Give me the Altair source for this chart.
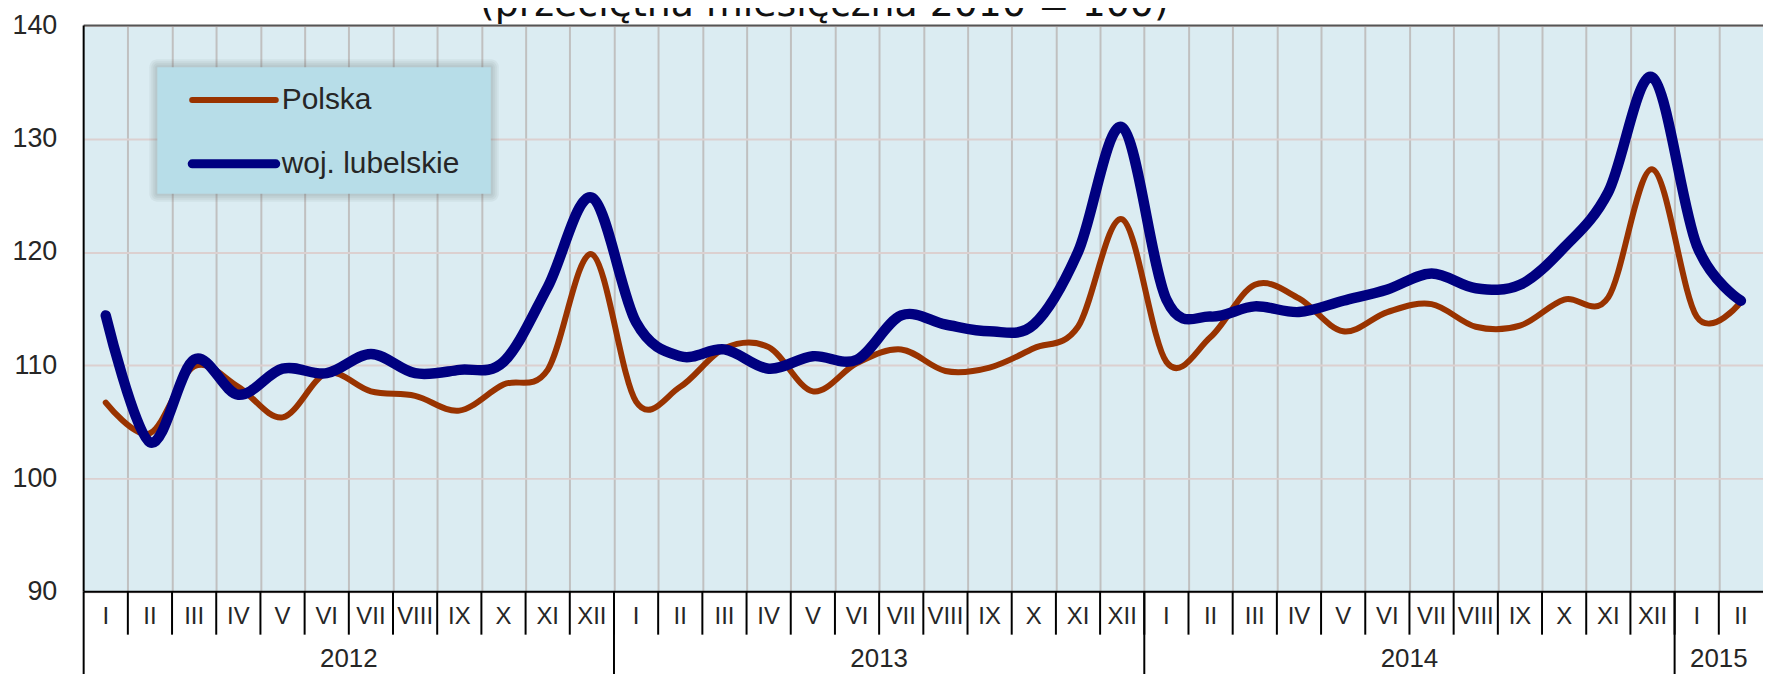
import altair as alt
import pandas as pd

# ---- data ----
month_names = ["I", "II", "III", "IV", "V", "VI", "VII", "VIII", "IX", "X", "XI", "XII"]
months = month_names * 3 + ["I", "II"]
years = ["2012", "2013", "2014", "2015"]
year_months = [12, 12, 12, 2]
series_names = ["Polska", "woj. lubelskie"]

polska = [
    106.7, 104.0, 109.9, 108.1, 105.4, 109.3, 107.7, 107.3, 106.0, 108.3, 109.6, 119.8,
    106.8, 108.1, 111.5, 111.6, 107.7, 110.2, 111.4, 109.5, 109.8, 111.5, 113.4, 122.9,
    110.3, 112.5, 117.1, 115.9, 113.0, 114.7, 115.4, 113.4, 113.5, 115.8, 116.0, 127.3,
    114.3, 115.6,
]
lubelskie = [
    114.4, 103.2, 110.5, 107.4, 109.7, 109.3, 111.0, 109.3, 109.6, 110.3, 116.9, 124.8,
    113.8, 110.8, 111.4, 109.7, 110.8, 110.5, 114.4, 113.6, 113.0, 113.6, 120.0, 131.0,
    115.8, 114.3, 115.2, 114.7, 115.7, 116.7, 118.1, 116.8, 117.1, 120.4, 125.3, 135.4,
    120.6, 115.7,
]
y_ticks = [90, 100, 110, 120, 130, 140]
title_text = "(przeciętna miesięczna 2010 = 100)"

# ---- layout ----
n = len(months)
W, H = 1687, 569
FONT = "Liberation Sans"
TXT = "#262626"
C_PL = "#993300"
C_LU = "#000080"

x_scale = alt.Scale(domain=[0, n], nice=False, zero=False)
y_scale = alt.Scale(domain=[90, 140], nice=False, zero=False)
x_axis = alt.Axis(values=list(range(1, n)), grid=True, gridColor="#c0c0c0", gridWidth=2,
                  labels=False, ticks=False, domain=False, title=None)
y_axis = alt.Axis(values=y_ticks, grid=True, gridColor="#dcd0d0", gridWidth=2, ticks=False,
                  domain=False, title=None, labelFont=FONT, labelFontSize=27,
                  labelColor=TXT, labelPadding=27)


def X(field="x"):
    return alt.X(f"{field}:Q", scale=x_scale, axis=x_axis)


df = pd.DataFrame({
    "x": [i + 0.5 for i in range(n)] * 2,
    "v": polska + lubelskie,
    "series": [series_names[0]] * n + [series_names[1]] * n,
})

line_pl = alt.Chart(df).transform_filter(alt.datum.series == series_names[0]).mark_line(
    interpolate="cardinal", color=C_PL, strokeWidth=6, strokeCap="round", strokeJoin="round"
).encode(x=X(), y=alt.Y("v:Q", scale=y_scale, axis=y_axis))

line_lu = alt.Chart(df).transform_filter(alt.datum.series == series_names[1]).mark_line(
    interpolate="cardinal", color=C_LU, strokeWidth=10.5, strokeCap="round", strokeJoin="round"
).encode(x=X(), y=alt.Y("v:Q", scale=y_scale, axis=y_axis))

# month labels and ticks
df_m = pd.DataFrame({"x": [i + 0.5 for i in range(n)], "label": months})
month_text = alt.Chart(df_m).mark_text(font=FONT, fontSize=24, color=TXT, baseline="middle").encode(
    x=X(), y=alt.value(H + 25), text="label:N")

df_b = pd.DataFrame({"x": list(range(1, n))})
month_ticks = alt.Chart(df_b).mark_rule(color="black", strokeWidth=2).encode(
    x=X(), y=alt.value(H), y2=alt.value(H + 43))

starts = [sum(year_months[:k]) for k in range(len(years))]
df_y = pd.DataFrame({"x": starts})
year_sep = alt.Chart(df_y).mark_rule(color="black", strokeWidth=2).encode(
    x=X(), y=alt.value(H), y2=alt.value(H + 140))

df_yl = pd.DataFrame({"x": [s + m / 2 for s, m in zip(starts, year_months)], "label": years})
year_text = alt.Chart(df_yl).mark_text(font=FONT, fontSize=26, color=TXT, baseline="middle").encode(
    x=X(), y=alt.value(H + 67), text="label:N")

one = pd.DataFrame({"k": [0]})

# plot borders
top_border = alt.Chart(one).mark_rule(color="#555555", strokeWidth=2).encode(
    x=alt.value(0), x2=alt.value(W), y=alt.value(0))
bottom_border = alt.Chart(one).mark_rule(color="black", strokeWidth=2).encode(
    x=alt.value(0), x2=alt.value(W), y=alt.value(H))
left_border = alt.Chart(one).mark_rule(color="black", strokeWidth=2).encode(
    x=alt.value(0), y=alt.value(0), y2=alt.value(H))

# legend box with soft shadow
LX0, LX1, LY0, LY1 = 74, 409, 42, 169
shadows = [
    alt.Chart(one).mark_rect(color="#56646a", opacity=0.07, cornerRadius=d).encode(
        x=alt.value(LX0 - d), x2=alt.value(LX1 + d), y=alt.value(LY0 - d), y2=alt.value(LY1 + d))
    for d in (8, 6, 4, 2)
]
legend_box = alt.Chart(one).mark_rect(color="#b7dde8").encode(
    x=alt.value(LX0), x2=alt.value(LX1), y=alt.value(LY0), y2=alt.value(LY1))
leg_pl = alt.Chart(one).mark_rule(color=C_PL, strokeWidth=6, strokeCap="round").encode(
    x=alt.value(109), x2=alt.value(193), y=alt.value(75))
leg_lu = alt.Chart(one).mark_rule(color=C_LU, strokeWidth=9, strokeCap="round").encode(
    x=alt.value(109), x2=alt.value(193), y=alt.value(139))
df_leg1 = pd.DataFrame({"name": [series_names[0]]})
df_leg2 = pd.DataFrame({"name": [series_names[1]]})
leg_t1 = alt.Chart(df_leg1).mark_text(font=FONT, fontSize=30, color=TXT, align="left", baseline="middle").encode(
    x=alt.value(199), y=alt.value(75), text="name:N")
leg_t2 = alt.Chart(df_leg2).mark_text(font=FONT, fontSize=30, color=TXT, align="left", baseline="middle").encode(
    x=alt.value(199), y=alt.value(139), text="name:N")

title = alt.Chart(one).mark_text(font="DejaVu Sans", fontSize=38, color="#111111", align="center",
                                 baseline="alphabetic").encode(
    x=alt.value(744), y=alt.value(-9), text=alt.value(title_text))

chart = alt.layer(
    line_pl, line_lu,
    *shadows, legend_box, leg_pl, leg_lu, leg_t1, leg_t2,
    month_ticks, year_sep, month_text, year_text,
    top_border, bottom_border, left_border, title,
).properties(
    width=W, height=H,
    autosize=alt.AutoSizeParams(type="none"),
    padding={"left": 76, "top": 16, "right": 0, "bottom": 81},
    background="white",
).configure_view(stroke=None, fill="#dbecf2")

chart.save("out.html", embed_options={"renderer": "svg", "actions": False})
